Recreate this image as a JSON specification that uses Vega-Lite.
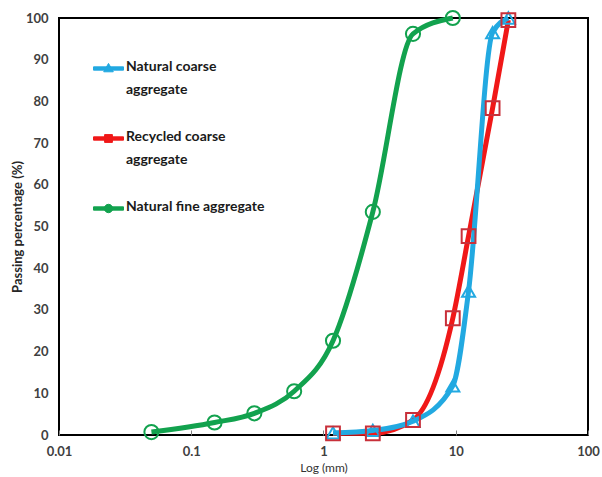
{
  "$schema": "https://vega.github.io/schema/vega-lite/v6.json",
  "width": 529,
  "height": 417,
  "autosize": "none",
  "padding": {"left": 59, "top": 18, "right": 14, "bottom": 42},
  "config": {
    "view": {"stroke": "#000000", "strokeWidth": 2},
    "font": "Lato"
  },
  "data": {
    "values": [
      {"series": "Natural fine aggregate", "size": 0.05, "pass": 0.7},
      {"series": "Natural fine aggregate", "size": 0.15, "pass": 3},
      {"series": "Natural fine aggregate", "size": 0.3, "pass": 5.2},
      {"series": "Natural fine aggregate", "size": 0.6, "pass": 10.5},
      {"series": "Natural fine aggregate", "size": 1.18, "pass": 22.6},
      {"series": "Natural fine aggregate", "size": 2.36, "pass": 53.5},
      {"series": "Natural fine aggregate", "size": 4.75, "pass": 96.2},
      {"series": "Natural fine aggregate", "size": 9.5, "pass": 100},
      {"series": "Recycled coarse aggregate", "size": 1.18, "pass": 0.4},
      {"series": "Recycled coarse aggregate", "size": 2.36, "pass": 0.4},
      {"series": "Recycled coarse aggregate", "size": 4.75, "pass": 3.6},
      {"series": "Recycled coarse aggregate", "size": 9.5, "pass": 28},
      {"series": "Recycled coarse aggregate", "size": 12.5, "pass": 47.7},
      {"series": "Recycled coarse aggregate", "size": 19, "pass": 78.4},
      {"series": "Recycled coarse aggregate", "size": 25, "pass": 99.5},
      {"series": "Natural coarse aggregate", "size": 1.18, "pass": 0.5},
      {"series": "Natural coarse aggregate", "size": 2.36, "pass": 1.1},
      {"series": "Natural coarse aggregate", "size": 4.75, "pass": 3.3},
      {"series": "Natural coarse aggregate", "size": 9.5, "pass": 11.8},
      {"series": "Natural coarse aggregate", "size": 12.5, "pass": 34.5},
      {"series": "Natural coarse aggregate", "size": 19, "pass": 96.5},
      {"series": "Natural coarse aggregate", "size": 25, "pass": 100}
    ]
  },
  "encoding": {
    "x": {
      "field": "size",
      "type": "quantitative",
      "scale": {"type": "log", "domain": [0.01, 100]},
      "axis": {
        "values": [0.01, 0.1, 1, 10, 100],
        "format": "~g",
        "labelFlush": false,
        "title": "Log (mm)",
        "titleFontSize": 12,
        "titleFontWeight": "normal",
        "titleColor": "#333333",
        "titlePadding": 4,
        "labelFontSize": 13,
        "labelFontWeight": "bold",
        "labelColor": "#404040",
        "labelPadding": 15,
        "tickSize": -5,
        "tickColor": "#808080",
        "domain": false,
        "grid": false
      }
    },
    "y": {
      "field": "pass",
      "type": "quantitative",
      "scale": {"domain": [0, 100]},
      "axis": {
        "values": [0, 10, 20, 30, 40, 50, 60, 70, 80, 90, 100],
        "title": "Passing percentage (%)",
        "titleFontSize": 13,
        "titleFontWeight": "bold",
        "titleColor": "#262626",
        "titlePadding": 1,
        "labelFontSize": 13,
        "labelFontWeight": "bold",
        "labelColor": "#404040",
        "labelPadding": 11,
        "ticks": false,
        "domain": false,
        "grid": false
      }
    }
  },
  "layer": [
    {
      "mark": {"type": "line", "strokeWidth": 5, "interpolate": "monotone"},
      "encoding": {
        "color": {
          "field": "series",
          "type": "nominal",
          "scale": {
            "domain": ["Natural coarse aggregate", "Recycled coarse aggregate", "Natural fine aggregate"],
            "range": ["#22A9E1", "#F01818", "#12A24E"]
          },
          "legend": {
            "orient": "none",
            "legendX": 34,
            "legendY": 35,
            "title": null,
            "padding": 0,
            "symbolSize": 900,
            "symbolStrokeWidth": 1.5,
            "labelFontSize": 14,
            "labelFontWeight": "bold",
            "labelColor": "#1a1a1a",
            "labelOffset": 2,
            "labelLimit": 300,
            "labelBaseline": "top",
            "rowPadding": 26,
            "labelExpr": "datum.label == 'Natural coarse aggregate' ? ['Natural coarse', 'aggregate'] : datum.label == 'Recycled coarse aggregate' ? ['Recycled coarse', 'aggregate'] : datum.label",
            "encode": {
              "labels": {"update": {"dy": {"value": -9}, "lineHeight": {"value": 23}}},
              "symbols": {
                "update": {
                  "shape": {"signal": "datum.value == 'Natural coarse aggregate' ? 'M-1,-0.11 L1,-0.11 L1,0.11 L-1,0.11 Z M0,-0.34 L0.32,0.22 L-0.32,0.22 Z' : datum.value == 'Recycled coarse aggregate' ? 'M-1,-0.11 L1,-0.11 L1,0.11 L-1,0.11 Z M-0.26,-0.26 L0.26,-0.26 L0.26,0.26 L-0.26,0.26 Z' : 'M-1,-0.11 L1,-0.11 L1,0.11 L-1,0.11 Z M0.28,0 A0.28,0.28 0 1,1 -0.28,0 A0.28,0.28 0 1,1 0.28,0 Z'"},
                  "fill": {"signal": "datum.value == 'Natural coarse aggregate' ? '#22A9E1' : datum.value == 'Recycled coarse aggregate' ? '#F01818' : '#12A24E'"},
                  "stroke": {"signal": "datum.value == 'Natural coarse aggregate' ? '#22A9E1' : datum.value == 'Recycled coarse aggregate' ? '#D02030' : '#12A24E'"},
                  "strokeWidth": {"value": 1}
                }
              }
            }
          }
        }
      }
    },
    {
      "transform": [{"filter": "datum.series == 'Natural coarse aggregate'"}],
      "mark": {"type": "point", "shape": "triangle-up", "filled": false, "strokeWidth": 2, "size": 170, "opacity": 1, "color": "#22A9E1"}
    },
    {
      "transform": [{"filter": "datum.series == 'Recycled coarse aggregate'"}],
      "mark": {"type": "point", "shape": "square", "filled": false, "strokeWidth": 2, "size": 190, "opacity": 1, "color": "#C8303A"}
    },
    {
      "transform": [{"filter": "datum.series == 'Natural fine aggregate'"}],
      "mark": {"type": "point", "shape": "circle", "filled": false, "strokeWidth": 2, "size": 200, "opacity": 1, "color": "#12A24E"}
    }
  ]
}
